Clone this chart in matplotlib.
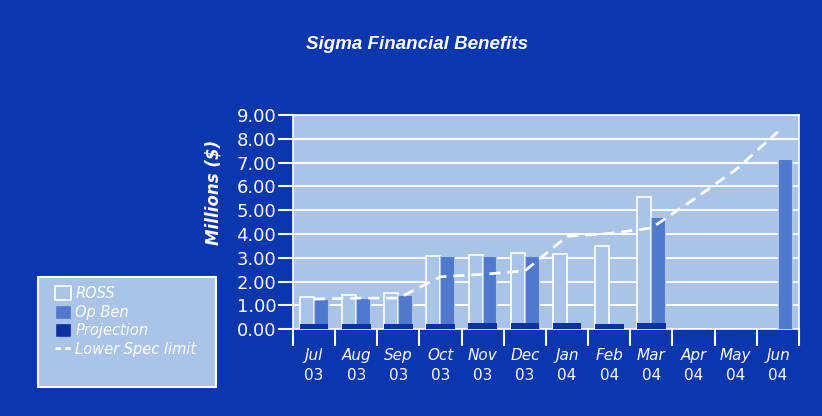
import numpy as np
import matplotlib.pyplot as plt
from matplotlib.patches import Patch, Rectangle
from matplotlib.lines import Line2D

# Datos (millones de $)
meses = ["Jul", "Aug", "Sep", "Oct", "Nov", "Dec", "Jan", "Feb", "Mar", "Apr", "May", "Jun"]
anios = ["03", "03", "03", "03", "03", "03", "04", "04", "04", "04", "04", "04"]
ross = [1.33, 1.42, 1.52, 3.08, 3.10, 3.18, 3.17, 3.49, 5.56, 0, 0, 0]
op_ben = [1.25, 1.30, 1.43, 3.08, 3.08, 3.07, 0, 0, 4.72, 0, 0, 7.15]
proyeccion = [0.22, 0.22, 0.22, 0.22, 0.24, 0.24, 0.24, 0.22, 0.24, 0, 0, 0]
spec_limit = [1.26, 1.30, 1.30, 2.20, 2.30, 2.45, 3.90, 4.02, 4.25, 5.45, 6.70, 8.30]

FONDO = "#0A36AE"
AREA = "#AAC4E8"
OPBEN = "#5078CC"
PROY = "#0B31A3"

fig = plt.figure(figsize=(8.22, 4.16), dpi=100, facecolor=FONDO)
ax = fig.add_axes([0.3564, 0.209, 0.6156, 0.5144], facecolor=AREA)

x = np.arange(len(meses))
ax.set_axisbelow(True)
ax.grid(axis="y", color="white", linewidth=1.5)

ax.bar(x - 0.17, ross, width=0.33, color=AREA, edgecolor="white", linewidth=1.2, zorder=2)
ax.bar(x + 0.16, op_ben, width=0.33, color=OPBEN, edgecolor=AREA, linewidth=0.8, zorder=3)
ax.bar(x, proyeccion, width=0.68, color=PROY, linewidth=0, zorder=4)
ax.plot(x, spec_limit, color="white", linestyle=(0, (4, 2.5)), linewidth=2, zorder=5)

ax.set_xlim(-0.5, 11.5)
ax.set_ylim(0, 9)
ax.set_yticks(np.arange(0, 10, 1))
ax.set_yticklabels([f"{v:.2f}" for v in range(10)], fontsize=13, color="white")
ax.tick_params(axis="y", length=11, width=1.5, color="white", pad=1)

# marcas en los bordes de cada mes, etiquetas centradas aparte
ax.set_xticks(np.arange(-0.5, 12, 1))
ax.set_xticklabels([])
ax.tick_params(axis="x", length=12, width=1.5, color="white")
for i in x:
    ax.text(i, -1.1, meses[i], ha="center", va="center",
            fontsize=11, style="italic", color="white", clip_on=False)
    ax.text(i, -1.95, anios[i], ha="center", va="center",
            fontsize=11, color="white", clip_on=False)

for s in ax.spines.values():
    s.set_color("white")
    s.set_linewidth(1.2)

ax.set_ylabel("Millions ($)", fontsize=12, fontweight="bold", style="italic", color="white")
ax.yaxis.set_label_coords(-0.14, 0.64)

fig.text(0.507, 0.892, "Sigma Financial Benefits", ha="center", va="center",
         fontsize=13.5, fontweight="bold", style="italic", color="white",
         family="Liberation Sans")

# recuadro de la leyenda
fig.patches.append(Rectangle((38 / 822, 29 / 416), 178 / 822, 110 / 416,
                             transform=fig.transFigure, facecolor=AREA,
                             edgecolor="white", linewidth=1.5, zorder=1))

handles = [
    Patch(facecolor=AREA, edgecolor="white", linewidth=1.2, label="ROSS"),
    Patch(facecolor=OPBEN, edgecolor=AREA, label="Op Ben"),
    Patch(facecolor=PROY, edgecolor=AREA, label="Projection"),
    Line2D([0], [0], color="white", linestyle=(0, (2, 1.5)), linewidth=2, label="Lower Spec limit"),
]
leg = fig.legend(handles=handles, loc="upper left", bbox_to_anchor=(55 / 822, 1 - 286 / 416),
                 frameon=False, handlelength=1.1, handleheight=1.1, handletextpad=0.3,
                 labelspacing=0.25, borderpad=0, borderaxespad=0,
                 labelcolor="white", prop={"style": "italic", "size": 10.5})
leg.set_zorder(2)

fig.savefig("out.png", dpi=100, facecolor=FONDO)
